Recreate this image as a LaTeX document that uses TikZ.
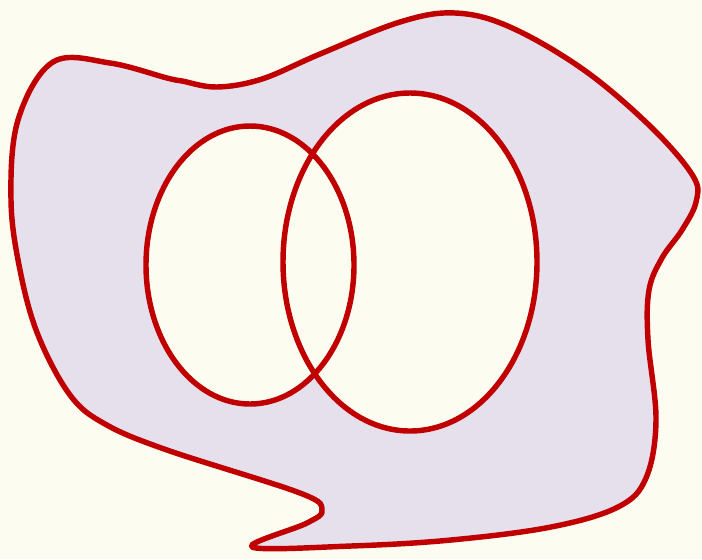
\documentclass[tikz,border=0pt]{standalone}
\usepackage{tikz}
\definecolor{creambg}{RGB}{252,252,240}
\definecolor{softlilac}{RGB}{230,224,237}
\definecolor{deepred}{RGB}{192,0,0}

\begin{document}
\begin{tikzpicture}[x=0.02cm,y=-0.02cm,line width=3.1pt,line join=round]
\fill[creambg] (0,0) rectangle (702,559);
\useasboundingbox (0,0) rectangle (702,559);
% the blob
\filldraw[draw=deepred,fill=softlilac] plot[smooth cycle,tension=0.6] coordinates {
 (53,62) (110,63) (167,78) (182,81) (217,87) (262,79) (320,54) (400,22) (455,13) (510,27)
 (584,70) (651,127) (693,176) (696,202) (682,230) (662,258) (649,290) (648,340) (656,420)
 (646,478) (618,507) (551,527) (451,540) (351,546) (252,547) (307,523) (322,510) (300,493)
 (167,450) (105,424) (70,395) (38,335) (20,270) (11,200) (18,120)};
% the two sets
\fill[creambg] (250,265) ellipse (104 and 139);
\fill[creambg] (410,262) ellipse (127 and 169);
\draw[deepred] (250,265) ellipse (104 and 139);
\draw[deepred] (410,262) ellipse (127 and 169);
\end{tikzpicture}
\end{document}
